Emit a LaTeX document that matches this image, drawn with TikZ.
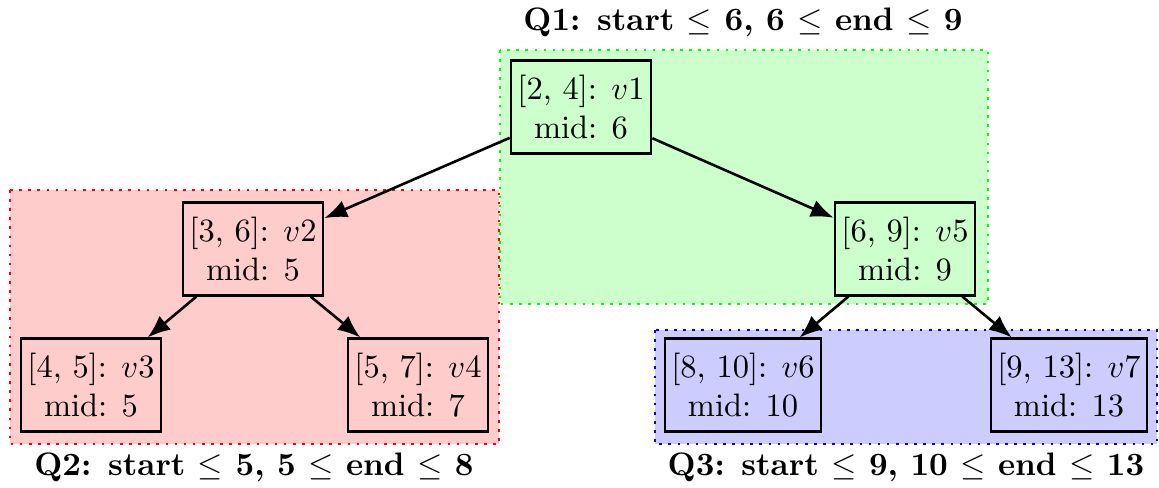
\documentclass[tikz,border=0pt]{standalone}
\usetikzlibrary{arrows.meta}
\begin{document}
\begin{tikzpicture}[x=0.3077pt,y=-0.3077pt,
  tnode/.style={draw=black,thick,align=center,minimum height=1cm,inner xsep=2pt},
  region/.style={dotted,thick},
  qlabel/.style={font=\bfseries,inner sep=0pt},
  edge/.style={thick,-{Latex[length=7pt,width=5.5pt]}}]
\useasboundingbox (0,0) rectangle (1159,487);
% regions
\filldraw[region,draw=green,fill=green!20] (500,50) rectangle (988,304);
\filldraw[region,draw=red,fill=red!20] (10,190) rectangle (499,444);
\filldraw[region,draw=blue,fill=blue!20] (655,330) rectangle (1157,444);
% nodes
\node[tnode] (v1) at (581,107) {[2, 4]: $v1$\\mid: 6};
\node[tnode] (v2) at (253,249) {[3, 6]: $v2$\\mid: 5};
\node[tnode] (v3) at (91,385) {[4, 5]: $v3$\\mid: 5};
\node[tnode] (v4) at (418,385) {[5, 7]: $v4$\\mid: 7};
\node[tnode] (v5) at (905,249) {[6, 9]: $v5$\\mid: 9};
\node[tnode] (v6) at (743,385) {[8, 10]: $v6$\\mid: 10};
\node[tnode] (v7) at (1069,385) {[9, 13]: $v7$\\mid: 13};
% edges
\draw[edge] (v1) -- (v2);
\draw[edge] (v1) -- (v5);
\draw[edge] (v2) -- (v3);
\draw[edge] (v2) -- (v4);
\draw[edge] (v5) -- (v6);
\draw[edge] (v5) -- (v7);
% labels
\node[qlabel] (q1) at (743,22) {Q1: start $\le$ 6, 6 $\le$ end $\le$ 9};
\node[qlabel] (q2) at (254,467) {Q2: start $\le$ 5, 5 $\le$ end $\le$ 8};
\node[qlabel] (q3) at (906,467) {Q3: start $\le$ 9, 10 $\le$ end $\le$ 13};
\end{tikzpicture}
\end{document}
